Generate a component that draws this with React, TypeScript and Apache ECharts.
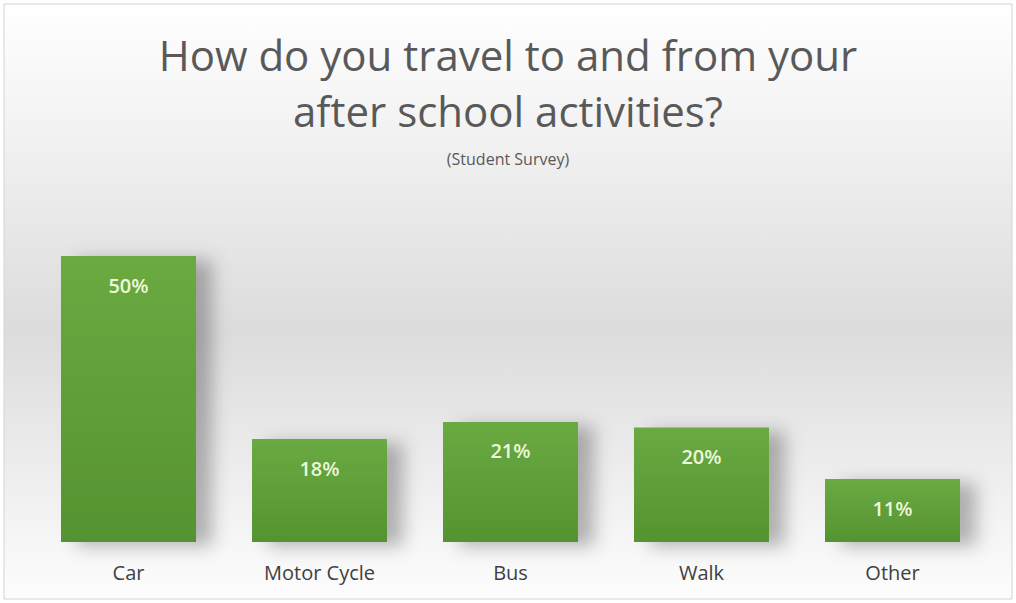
import React, { useEffect, useRef } from "react";
import * as echarts from "echarts";

const categories = ["Car", "Motor Cycle", "Bus", "Walk", "Other"];
const values = [50, 18, 21, 20, 11];
const titleLines = ["How do you travel to and from your", "after school activities?"];
const subtitle = "(Student Survey)";

export default function App() {
  const ref = useRef<HTMLDivElement>(null);
  useEffect(() => {
    document.body.style.margin = "0";
    const chart = echarts.init(ref.current!, null, { renderer: "svg" });
    chart.setOption({
      animation: false,
      backgroundColor: "#ffffff",
      graphic: [
        {
          type: "rect",
          z: -10,
          shape: { x: 4, y: 4, width: 1008, height: 595 },
          style: {
            fill: new echarts.graphic.LinearGradient(0, 0, 0, 1, [
              { offset: 0, color: "#ffffff" },
              { offset: 0.2, color: "#f3f3f3" },
              { offset: 0.55, color: "#dcdcdc" },
              { offset: 0.85, color: "#f2f2f2" },
              { offset: 1, color: "#fdfdfd" },
            ]),
            stroke: "#d4d4d4",
            lineWidth: 1,
          },
        },
      ],
      title: {
        text: titleLines.join("\n"),
        subtext: subtitle,
        left: "center",
        top: 21,
        itemGap: 13,
        textStyle: {
          fontFamily: "Open Sans",
          fontSize: 42,
          fontWeight: "normal",
          color: "#595959",
          lineHeight: 56,
        },
        subtextStyle: {
          fontFamily: "Open Sans",
          fontSize: 16,
          color: "#595959",
        },
      },
      grid: { left: 33, right: 28, top: 256, bottom: 61 },
      xAxis: {
        type: "category",
        data: categories,
        axisLine: { show: false },
        axisTick: { show: false },
        axisLabel: {
          fontFamily: "Open Sans",
          fontSize: 20,
          color: "#404040",
          margin: 20,
        },
      },
      yAxis: {
        type: "value",
        min: 0,
        max: 50,
        show: false,
        splitLine: { show: false },
      },
      series: [
        {
          type: "bar",
          data: values,
          barWidth: 135,
          itemStyle: {
            color: new echarts.graphic.LinearGradient(0, 0, 0, 1, [
              { offset: 0, color: "#6aaa42" },
              { offset: 1, color: "#559330" },
            ]),
            shadowColor: "rgba(0,0,0,0.28)",
            shadowBlur: 18,
            shadowOffsetX: 16,
            shadowOffsetY: 4,
          },
          label: {
            show: true,
            position: "insideTop",
            distance: 19,
            formatter: "{c}%",
            fontFamily: "Open Sans",
            fontWeight: 600,
            fontSize: 20,
            color: "#eef8dc",
          },
        },
      ],
    });
    return () => chart.dispose();
  }, []);
  return <div ref={ref} style={{ position: "fixed", left: 0, top: 0, width: 1016, height: 603 }} />;
}
